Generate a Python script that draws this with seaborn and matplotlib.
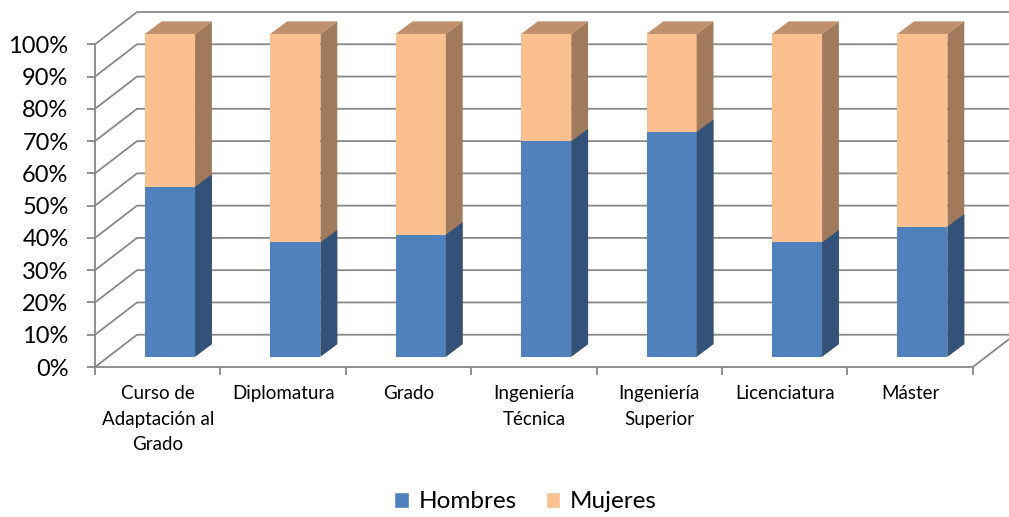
import numpy as np
import pandas as pd
import seaborn as sns
import matplotlib.pyplot as plt
from matplotlib.patches import Polygon, Patch

# Porcentaje de hombres y mujeres por tipo de titulación
titulaciones = ["Curso de\nAdaptación al\nGrado", "Diplomatura", "Grado",
                "Ingeniería\nTécnica", "Ingeniería\nSuperior", "Licenciatura", "Máster"]
hombres = [52.6, 35.4, 37.8, 66.7, 69.6, 35.4, 40.3]
mujeres = [47.4, 64.6, 62.2, 33.3, 30.4, 64.6, 59.7]

df = pd.DataFrame({"titulacion": titulaciones, "Hombres": hombres, "Mujeres": mujeres})
df["total"] = df["Hombres"] + df["Mujeres"]

sns.set_style("white")
plt.rcParams["font.family"] = ["Lato", "DejaVu Sans"]
plt.rcParams["text.color"] = "black"
plt.rcParams["xtick.color"] = "black"
plt.rcParams["ytick.color"] = "black"

GRIS = "#888888"
# falso 3D: desplazamientos en unidades de datos (categoría, %)
DX_BACK, DY_BACK = 0.335, 10
DX_FRONT, DY_FRONT = 0.098, 3.2
DX_SIDE, DY_SIDE = 0.134, 3.9
XMAX = -0.5 + 914 / 125.4

fig = plt.figure(figsize=(10.09, 5.17), dpi=100)
ax = fig.add_axes([95 / 1009, 150 / 517, 914 / 1009, 355 / 517])

sns.barplot(data=df, x="titulacion", y="total", color="#FAC090", width=0.4,
            saturation=1, errorbar=None, ax=ax, zorder=3)
sns.barplot(data=df, x="titulacion", y="Hombres", color="#4F81BD", width=0.4,
            saturation=1, errorbar=None, ax=ax, zorder=3)

# caras laterales y superiores
sombras = [("#A07A5A", "#BF906B"), ("#32527A", None)]
for cont, (lado, tapa) in zip(ax.containers, sombras):
    for p in cont.patches:
        p.set_x(p.get_x() + DX_FRONT)
        p.set_y(p.get_y() + DY_FRONT)
        p.set_edgecolor("none")
        x0, y0, w, h = p.get_x(), p.get_y(), p.get_width(), p.get_height()
        ax.add_patch(Polygon([(x0 + w, y0), (x0 + w + DX_SIDE, y0 + DY_SIDE),
                              (x0 + w + DX_SIDE, y0 + h + DY_SIDE), (x0 + w, y0 + h)],
                             closed=True, facecolor=lado, edgecolor="none", zorder=3))
        if tapa:
            ax.add_patch(Polygon([(x0, y0 + h), (x0 + DX_SIDE, y0 + h + DY_SIDE),
                                  (x0 + w + DX_SIDE, y0 + h + DY_SIDE), (x0 + w, y0 + h)],
                                 closed=True, facecolor=tapa, edgecolor="none", zorder=3))

# paredes y rejilla
for v in range(0, 101, 10):
    ax.plot([-0.5, -0.5 + DX_BACK, XMAX], [v, v + DY_BACK, v + DY_BACK],
            color=GRIS, lw=1.3, zorder=1, clip_on=False)
ax.plot([-0.5, -0.5], [0, 100], color=GRIS, lw=1.3, zorder=1, clip_on=False)
ax.plot([-0.5, 6.5, 6.5 + DX_BACK], [0, 0, DY_BACK], color=GRIS, lw=1.3, zorder=1, clip_on=False)

ax.set_xlim(-0.5, XMAX)
ax.set_ylim(0, 110)
sns.despine(ax=ax, left=True, bottom=True)
ax.set_xlabel("")
ax.set_ylabel("")

ax.set_yticks(range(0, 101, 10))
ax.set_yticklabels([f"{v}%" for v in range(0, 101, 10)])
ax.tick_params(axis="y", length=6, width=1.3, color=GRIS, pad=13, labelsize=17, left=True)
ax.set_xticks(range(len(titulaciones)))
ax.set_xticklabels(titulaciones, fontsize=13.5, linespacing=1.62, va="top")
ax.set_xticks(np.arange(-0.5, 7, 1), minor=True)
ax.tick_params(axis="x", which="major", length=0, pad=13)
ax.tick_params(axis="x", which="minor", length=6, width=1.3, color=GRIS, bottom=True)

if ax.get_legend():
    ax.get_legend().remove()
handles = [Patch(facecolor="#4F81BD"), Patch(facecolor="#FAC090")]
fig.legend(handles, ["Hombres", "Mujeres"], loc="center", bbox_to_anchor=(0.521, 1 - 502 / 517),
           ncol=2, frameon=False, fontsize=17.5, handlelength=0.6, handleheight=0.6,
           handletextpad=0.4, columnspacing=1.2)

fig.savefig("out.png", dpi=100)
